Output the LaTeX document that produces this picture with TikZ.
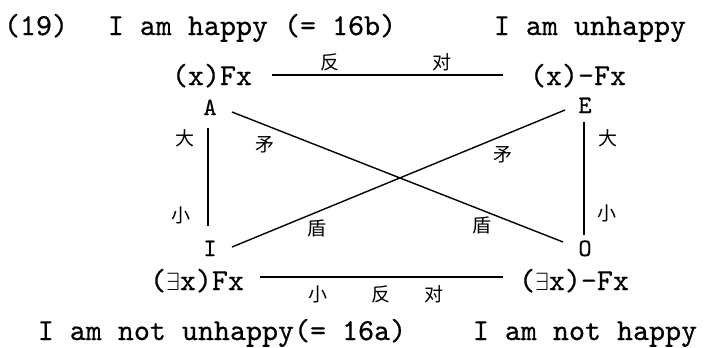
\documentclass[tikz,border=0pt]{standalone}
\usepackage{fontspec}
\newfontfamily\cjk{Noto Sans CJK SC}
\newfontfamily\tw[FakeBold=0.5]{lmmono10-regular.otf}
\begin{document}
\begin{tikzpicture}[x=1pt,y=-1pt,
  txt/.style={inner sep=0pt,anchor=base,font=\fontsize{30.5}{32}\tw},
  letter/.style={inner sep=0pt,anchor=base,font=\fontsize{25}{26}\tw},
  zh/.style={inner sep=0pt,font=\fontsize{19}{20}\cjk},
  ln/.style={line width=1.4pt,black}]
\path[use as bounding box] (0,0) rectangle (707,348);
% top row
\node[txt] (n19) at (36,35) {(19)};
\node[txt] (happy) at (252,35) {I am happy (= 16b)};
\node[txt] (unhappy) at (590,35) {I am unhappy};
% formula row top
\node[txt] (Fx) at (212,85) {(x)Fx};
\node[txt] (nFx) at (578,85) {(x)-Fx};
% corners
\node[letter] (A) at (210,115) {A};
\node[letter] (E) at (585,113) {E};
\node[letter] (I) at (210,256) {I};
\node[letter] (O) at (585,256) {O};
% bottom formulas
\node[txt] (eFx) at (197,290) {($\exists$x)Fx};
\node[txt] (enFx) at (574,290) {($\exists$x)-Fx};
% bottom text
\node[txt] (notun) at (222,340) {I am not unhappy(= 16a)};
\node[txt] (nothappy) at (585,340) {I am not happy};
% line endpoints
\coordinate (tl) at (272,75); \coordinate (tr) at (503,75);
\coordinate (bl) at (260,277); \coordinate (br) at (503,277);
\coordinate (lt) at (208,128); \coordinate (lb) at (208,226);
\coordinate (rt) at (584,122); \coordinate (rb) at (584,235);
\coordinate (aS) at (232,112); \coordinate (oE) at (563,242);
\coordinate (iS) at (232,247); \coordinate (eE) at (565,110);
\draw[ln] (tl) -- (tr);
\draw[ln] (bl) -- (br);
\draw[ln] (lt) -- (lb);
\draw[ln] (rt) -- (rb);
\draw[ln] (aS) -- (oE);
\draw[ln] (iS) -- (eE);
% chinese labels
\node[zh] (t1) at (330,62) {反};
\node[zh] (t2) at (442,62) {对};
\node[zh] (b1) at (318,294) {小};
\node[zh] (b2) at (381,294) {反};
\node[zh] (b3) at (434,294) {对};
\node[zh] (l1) at (185,138) {大};
\node[zh] (l2) at (181,215) {小};
\node[zh] (r1) at (608,138) {大};
\node[zh] (r2) at (607,213) {小};
\node[zh] (m1) at (265,145) {矛};
\node[zh] (d1) at (317,228) {盾};
\node[zh] (m2) at (503,155) {矛};
\node[zh] (d2) at (482,225) {盾};
\end{tikzpicture}
\end{document}
